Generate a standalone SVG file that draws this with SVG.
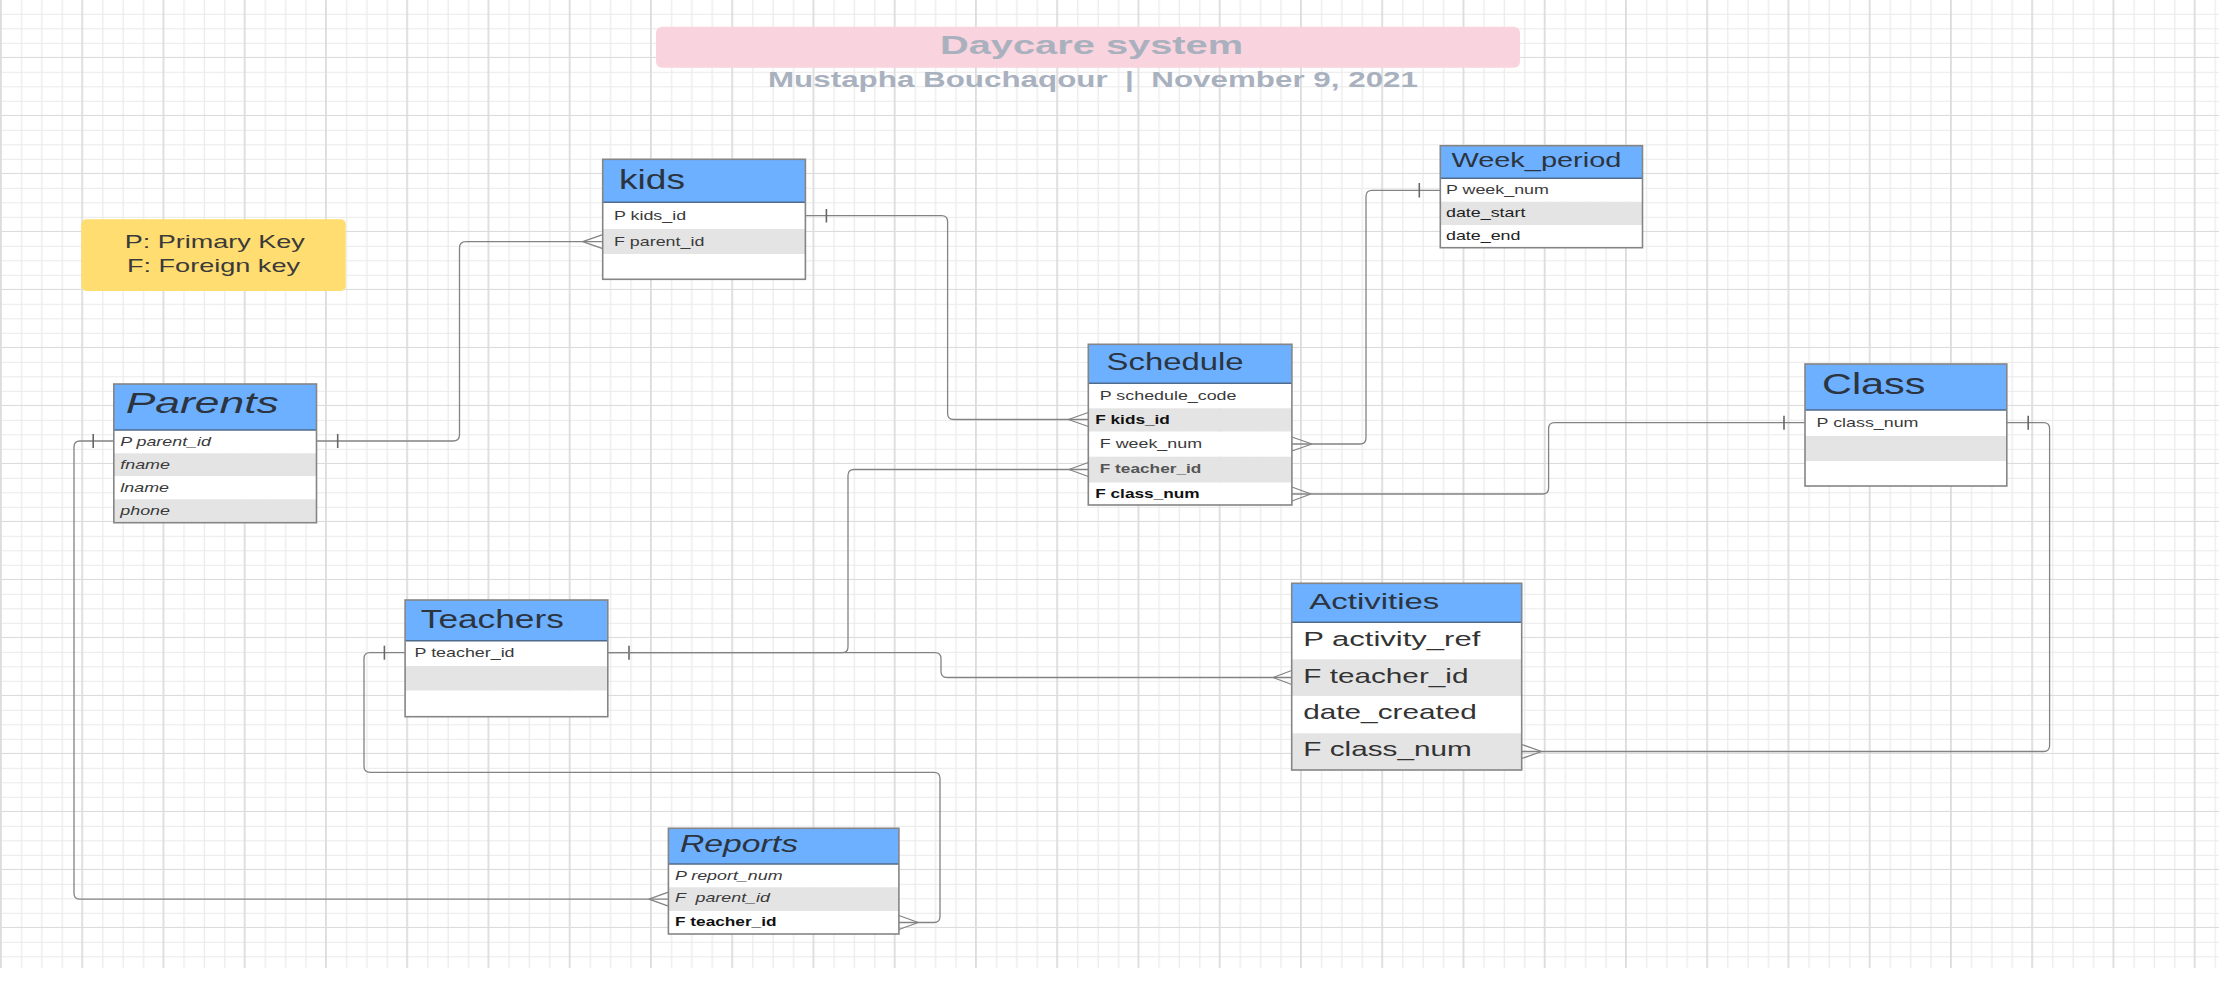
<svg xmlns="http://www.w3.org/2000/svg" width="2231" height="983" viewBox="0 0 2231 983">
<style>
text{font-family:"Liberation Sans",Arial,sans-serif;}
.ttl{font-weight:bold;fill:#A9B1BF;}
.leg{font-size:18.5px;fill:#3a3a3a;}
.hdr{fill:#6CB0FF;}
.hline{stroke:#4F6A8C;stroke-width:1.6;}
.alt{fill:#E4E4E4;}
.row{fill:#FFFFFF;}
.box{fill:none;stroke:#858585;stroke-width:1.6;}
.tname{fill:#2C3440;}
.r{font-size:12.5px;fill:#3a3a3a;}
.rb{font-size:12.5px;fill:#111;font-weight:bold;}
.ra{font-size:20.5px;fill:#333;}
.it{font-style:italic;}
.conn path{fill:none;stroke:#838383;stroke-width:1.3;}
.conn .tick{stroke:#666;stroke-width:1.6;}
</style>
<defs>
<pattern id="grid" x="0" y="0" width="81.25" height="58" patternUnits="userSpaceOnUse">
<rect x="21" y="0" width="1.2" height="58" fill="#EAEAEA"/>
<rect x="41.3" y="0" width="1.2" height="58" fill="#EAEAEA"/>
<rect x="61.7" y="0" width="1.2" height="58" fill="#EAEAEA"/>
<rect x="0" y="13.8" width="81.25" height="1" fill="#EAEAEA"/>
<rect x="0" y="28.3" width="81.25" height="1" fill="#EAEAEA"/>
<rect x="0" y="42.8" width="81.25" height="1" fill="#EAEAEA"/>
<rect x="0" y="56.9" width="81.25" height="1.2" fill="#DCDCDC"/>
<rect x="0" y="0" width="1.8" height="58" fill="#DCDCDC"/>
</pattern>
</defs>
<rect x="0" y="0" width="2231" height="983" fill="#FFFFFF"/>
<rect x="0" y="0" width="2219" height="968" fill="url(#grid)"/>

<g id="title">
<rect x="656" y="26.7" width="864" height="41" rx="6" fill="#F9D3DD"/>
<text class="ttl" x="940" y="53.5" font-size="26.5" textLength="303" lengthAdjust="spacingAndGlyphs">Daycare system</text>
<text class="ttl" x="768" y="87" font-size="22" textLength="650" lengthAdjust="spacingAndGlyphs">Mustapha Bouchaqour &#160;| &#160;November 9, 2021</text>
</g>

<g id="legend">
<rect x="81.3" y="219.3" width="264.5" height="71.7" rx="5" fill="#FFDD70"/>
<text class="leg" x="124.7" y="248.3" textLength="180" lengthAdjust="spacingAndGlyphs">P: Primary Key</text>
<text class="leg" x="127" y="271.7" textLength="173" lengthAdjust="spacingAndGlyphs">F: Foreign key</text>
</g>

<g id="connectors" class="conn">
<path d="M316.5 441 H453 Q459.5 441 459.5 434.5 V248 Q459.5 241.7 466 241.7 H602.7"/>
<path class="tick" d="M337.7 434 V448"/>
<path d="M582.7 241.7 L602.7 234.7 M582.7 241.7 L602.7 248.7"/>

<path d="M805.4 215.7 H941.5 Q947.6 215.7 947.6 221.7 V413.5 Q947.6 419.5 953.6 419.5 H1088.3"/>
<path class="tick" d="M826.4 209 V222.5"/>
<path d="M1068.4 419.5 L1088.3 412.5 M1068.4 419.5 L1088.3 426.5"/>

<path d="M1291.9 444 H1360 Q1366 444 1366 438 V196.3 Q1366 190.3 1372 190.3 H1440.3"/>
<path d="M1312 444 L1291.9 437 M1312 444 L1291.9 451"/>
<path class="tick" d="M1419.3 183 V197.5"/>

<path d="M1291.9 494 H1542.6 Q1548.6 494 1548.6 488 V428.7 Q1548.6 422.7 1554.6 422.7 H1805"/>
<path d="M1311 494 L1291.9 487 M1311 494 L1291.9 501"/>
<path class="tick" d="M1784 415.7 V429.7"/>

<path d="M2006.8 422.7 H2043.6 Q2049.6 422.7 2049.6 428.7 V745.5 Q2049.6 751.5 2043.6 751.5 H1521.7"/>
<path class="tick" d="M2028.2 415.7 V429.7"/>
<path d="M1541.7 751.5 L1521.7 744.5 M1541.7 751.5 L1521.7 758.5"/>

<path d="M607.8 652.7 H842 Q848 652.7 848 646.7 V475.5 Q848 469.5 854 469.5 H1088.3"/>
<path class="tick" d="M629 645.7 V659.7"/>
<path d="M1069 469.5 L1088.3 462.5 M1069 469.5 L1088.3 476.5"/>

<path d="M607.8 652.7 H935 Q941 652.7 941 658.7 V671.5 Q941 677.5 947 677.5 H1291.7"/>
<path d="M1273 677.5 L1291.7 670.5 M1273 677.5 L1291.7 684.5"/>

<path d="M405.1 652.7 H370 Q364 652.7 364 658.7 V766.3 Q364 772.3 370 772.3 H934 Q940 772.3 940 778.3 V916.5 Q940 922.5 934 922.5 H898.9"/>
<path class="tick" d="M384.4 645.7 V659.7"/>
<path d="M918.3 922.5 L898.9 915.5 M918.3 922.5 L898.9 929.5"/>

<path d="M113.8 441 H80 Q74 441 74 447 V893.2 Q74 899.2 80 899.2 H668.4"/>
<path class="tick" d="M93.2 434 V448"/>
<path d="M648.9 899.2 L668.4 892.2 M648.9 899.2 L668.4 906.2"/>
</g>

<g id="parents">
<rect class="hdr" x="113.8" y="384" width="202.7" height="46"/>
<rect class="row" x="113.8" y="430" width="202.7" height="23.3"/>
<rect class="alt" x="113.8" y="453.3" width="202.7" height="22.7"/>
<rect class="row" x="113.8" y="476" width="202.7" height="23.3"/>
<rect class="alt" x="113.8" y="499.3" width="202.7" height="23.4"/>
<line class="hline" x1="113.8" y1="430" x2="316.5" y2="430"/>
<rect class="box" x="113.8" y="384" width="202.7" height="138.7"/>
<text class="tname it" x="125.7" y="412.7" font-size="29.3" textLength="153" lengthAdjust="spacingAndGlyphs">Parents</text>
<text class="r it" transform="translate(120.3 445.5) scale(1.43 1)">P parent_id</text>
<text class="r it" transform="translate(120.3 468.5) scale(1.43 1)">fname</text>
<text class="r it" transform="translate(120.3 491.5) scale(1.43 1)">lname</text>
<text class="r it" transform="translate(120.3 514.5) scale(1.43 1)">phone</text>
</g>

<g id="kids">
<rect class="hdr" x="602.7" y="159.3" width="202.7" height="43"/>
<rect class="row" x="602.7" y="202.3" width="202.7" height="26.7"/>
<rect class="alt" x="602.7" y="229" width="202.7" height="25"/>
<rect class="row" x="602.7" y="254" width="202.7" height="25.3"/>
<line class="hline" x1="602.7" y1="202.3" x2="805.4" y2="202.3"/>
<rect class="box" x="602.7" y="159.3" width="202.7" height="120"/>
<text class="tname" x="619" y="189" font-size="28.5" textLength="66" lengthAdjust="spacingAndGlyphs">kids</text>
<text class="r" transform="translate(614 219.5) scale(1.43 1)">P kids_id</text>
<text class="r" transform="translate(614 245.5) scale(1.43 1)">F parent_id</text>
</g>

<g id="week_period">
<rect class="hdr" x="1440.3" y="145.7" width="202.2" height="32.6"/>
<rect class="row" x="1440.3" y="178.3" width="202.2" height="23.4"/>
<rect class="alt" x="1440.3" y="201.7" width="202.2" height="23.3"/>
<rect class="row" x="1440.3" y="225" width="202.2" height="22.7"/>
<line class="hline" x1="1440.3" y1="178.3" x2="1642.5" y2="178.3"/>
<rect class="box" x="1440.3" y="145.7" width="202.2" height="102"/>
<text class="tname" x="1451.4" y="167.3" font-size="20.5" textLength="170" lengthAdjust="spacingAndGlyphs">Week_period</text>
<text class="r" transform="translate(1446 194) scale(1.43 1)">P week_num</text>
<text class="r" style="fill:#222" transform="translate(1446 217) scale(1.43 1)">date_start</text>
<text class="r" style="fill:#222" transform="translate(1446 240.3) scale(1.43 1)">date_end</text>
</g>

<g id="schedule">
<rect class="hdr" x="1088.3" y="344.3" width="203.6" height="39"/>
<rect class="row" x="1088.3" y="383.3" width="203.6" height="25"/>
<rect class="alt" x="1088.3" y="408.3" width="203.6" height="23.4"/>
<rect class="row" x="1088.3" y="431.7" width="203.6" height="25"/>
<rect class="alt" x="1088.3" y="456.7" width="203.6" height="26"/>
<rect class="row" x="1088.3" y="482.7" width="203.6" height="22.3"/>
<line class="hline" x1="1088.3" y1="383.3" x2="1291.9" y2="383.3"/>
<rect class="box" x="1088.3" y="344.3" width="203.6" height="160.7"/>
<text class="tname" x="1106.6" y="370" font-size="23.3" textLength="137" lengthAdjust="spacingAndGlyphs">Schedule</text>
<text class="r" transform="translate(1099.8 399.5) scale(1.43 1)">P schedule_code</text>
<text class="rb" transform="translate(1095.2 423.5) scale(1.38 1)">F kids_id</text>
<text class="r" transform="translate(1099.8 447.5) scale(1.43 1)">F week_num</text>
<text class="r" style="font-weight:bold;fill:#555" transform="translate(1099.8 472.5) scale(1.38 1)">F teacher_id</text>
<text class="rb" transform="translate(1095.2 497.7) scale(1.38 1)">F class_num</text>
</g>

<g id="class">
<rect class="hdr" x="1805" y="364" width="201.8" height="46"/>
<rect class="row" x="1805" y="410" width="201.8" height="26"/>
<rect class="alt" x="1805" y="436" width="201.8" height="25"/>
<rect class="row" x="1805" y="461" width="201.8" height="25"/>
<line class="hline" x1="1805" y1="410" x2="2006.8" y2="410"/>
<rect class="box" x="1805" y="364" width="201.8" height="122"/>
<text class="tname" x="1822" y="394" font-size="29" textLength="103.5" lengthAdjust="spacingAndGlyphs">Class</text>
<text class="r" transform="translate(1816.6 426.5) scale(1.43 1)">P class_num</text>
</g>

<g id="teachers">
<rect class="hdr" x="405.1" y="600" width="202.7" height="40.7"/>
<rect class="row" x="405.1" y="640.7" width="202.7" height="25.3"/>
<rect class="alt" x="405.1" y="666" width="202.7" height="24.7"/>
<rect class="row" x="405.1" y="690.7" width="202.7" height="26"/>
<line class="hline" x1="405.1" y1="640.7" x2="607.8" y2="640.7"/>
<rect class="box" x="405.1" y="600" width="202.7" height="116.7"/>
<text class="tname" x="420.8" y="627.7" font-size="25.6" textLength="143" lengthAdjust="spacingAndGlyphs">Teachers</text>
<text class="r" transform="translate(414.6 656.5) scale(1.43 1)">P teacher_id</text>
</g>

<g id="activities">
<rect class="hdr" x="1291.7" y="583.3" width="230" height="39"/>
<rect class="row" x="1291.7" y="622.3" width="230" height="37"/>
<rect class="alt" x="1291.7" y="659.3" width="230" height="36.7"/>
<rect class="row" x="1291.7" y="696" width="230" height="37.3"/>
<rect class="alt" x="1291.7" y="733.3" width="230" height="36.7"/>
<line class="hline" x1="1291.7" y1="622.3" x2="1521.7" y2="622.3"/>
<rect class="box" x="1291.7" y="583.3" width="230" height="186.7"/>
<text class="tname" x="1309.3" y="609" font-size="22" textLength="130" lengthAdjust="spacingAndGlyphs">Activities</text>
<text class="ra" x="1303.3" y="646" textLength="177" lengthAdjust="spacingAndGlyphs">P activity_ref</text>
<text class="ra" transform="translate(1303.3 682.7) scale(1.45 1)">F teacher_id</text>
<text class="ra" transform="translate(1303.3 719.3) scale(1.45 1)">date_created</text>
<text class="ra" transform="translate(1303.3 756) scale(1.45 1)">F class_num</text>
</g>

<g id="reports">
<rect class="hdr" x="668.4" y="828.3" width="230.5" height="35.7"/>
<rect class="row" x="668.4" y="864" width="230.5" height="23.3"/>
<rect class="alt" x="668.4" y="887.3" width="230.5" height="23.7"/>
<rect class="row" x="668.4" y="911" width="230.5" height="23"/>
<line class="hline" x1="668.4" y1="864" x2="898.9" y2="864"/>
<rect class="box" x="668.4" y="828.3" width="230.5" height="105.7"/>
<text class="tname it" x="680" y="851.7" font-size="23.3" textLength="118" lengthAdjust="spacingAndGlyphs">Reports</text>
<text class="r it" transform="translate(675 879.5) scale(1.43 1)">P report_num</text>
<text class="r it" transform="translate(675 902) scale(1.43 1)">F &#160;parent_id</text>
<text class="rb" transform="translate(675 926) scale(1.38 1)">F teacher_id</text>
</g>
</svg>
